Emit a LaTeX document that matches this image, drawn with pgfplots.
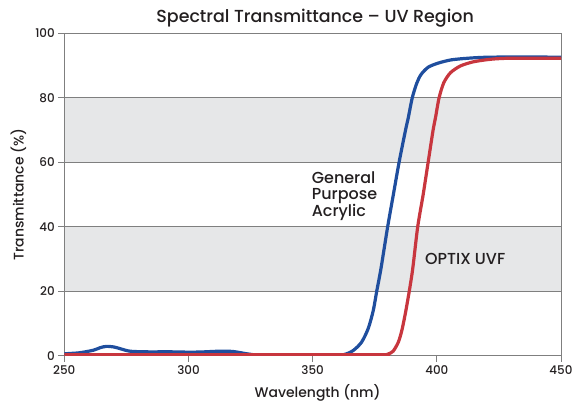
\documentclass[border=0pt]{standalone}
\usepackage{fontspec}
\setmainfont{Poppins}[UprightFont=* Medium]
\usepackage{pgfplots}
\pgfplotsset{compat=1.18}
\definecolor{bandgray}{HTML}{E6E7E8}
\definecolor{gridgray}{HTML}{7F7F7F}
\definecolor{txt}{HTML}{231F20}
\definecolor{cblue}{HTML}{1F4E9E}
\definecolor{cred}{HTML}{C8363E}
\begin{document}
\begin{tikzpicture}
\begin{axis}[
  set layers, clip mode=individual,
  at={(0,0)}, anchor=south west,
  scale only axis, width=496.7bp, height=322.3bp,
  xmin=250, xmax=450, ymin=0, ymax=100,
  xtick={250,300,...,450}, ytick={0,20,...,100},
  xtick pos=bottom, ytick pos=left, tick align=outside, major tick length=6bp,
  tick style={gridgray, line width=1pt},
  axis line style={gridgray, line width=1pt},
  ymajorgrids, major grid style={gridgray, line width=1pt},
  /pgf/number format/assume math mode=true,
  ticklabel style={font=\fontsize{12}{12}\selectfont, text=txt},
  xlabel={Wavelength (nm)},
  xlabel style={font=\fontsize{14}{15}\selectfont, text=txt, at={(axis description cs:0.51,0)}, anchor=base, yshift=-41.3bp, inner sep=0pt},
  ylabel={Transmittance (\%)},
  ylabel style={font=\fontsize{14}{15}\selectfont, text=txt, at={(axis description cs:-0.0925,0.5)}, anchor=center, inner sep=0pt},
]
\begin{pgfonlayer}{axis background}
\fill[bandgray] (axis cs:250,20) rectangle (axis cs:450,40);
\fill[bandgray] (axis cs:250,60) rectangle (axis cs:450,80);
\end{pgfonlayer}

% General Purpose Acrylic
\addplot[cblue, line width=3.2bp, smooth, tension=0.45] coordinates {
(250,0.6) (256,0.9) (261.7,1.7) (264.5,2.5) (267,2.9) (270,2.7) (272.4,2.2)
(276.4,1.4) (283,1.2) (293,1.2) (300,1.1) (305,1.15) (312.7,1.4) (318,1.3)
(323.4,0.6) (328.7,0.1) (335,0) (355,0) (362.3,0.3) (366.3,1.6) (369.7,4.2)
(372.4,8.5) (374.4,14) (375.8,20) (377.5,27) (380.2,40) (382.5,50) (384.8,60)
(387.4,70) (388.5,73.8) (390.1,80) (391.9,84.5) (393.6,87.2) (396.5,89.5)
(400.6,90.8) (405.9,91.8) (412.6,92.3) (420,92.6) (435,92.7) (450,92.6)
};
% OPTIX UVF
\addplot[cred, line width=3.2bp, smooth, tension=0.45] coordinates {
(250,0.3) (300,0.3) (350,0.3) (378,0.3) (380.3,0.5) (382.4,1.4) (384.5,4.2)
(385.9,7.8) (387.3,13) (388.9,20) (390.3,27) (392.3,40) (394.5,50) (396.5,60)
(398.5,70) (399.5,74) (400.9,80) (402.8,84.7) (405.5,87.8) (409.5,89.9)
(414.8,91.2) (422,92) (430,92.3) (450,92.3)
};

\node[anchor=base, inner sep=0pt, text=txt, font=\fontsize{17.5}{19}\selectfont]
  at (rel axis cs:0.505,1) [yshift=10.6bp] {Spectral Transmittance – UV Region};
\node[anchor=west, align=left, inner sep=0pt, text=txt, font=\fontsize{16}{16.5}\selectfont]
  at (axis cs:349.6,49.5) {General\\Purpose\\Acrylic};
\node[anchor=west, inner sep=0pt, text=txt, font=\fontsize{16}{16.5}\selectfont]
  at (axis cs:395.2,29.9) {OPTIX UVF};
\end{axis}
\pgfresetboundingbox
\path (-64.3bp,-47bp) rectangle (509.7bp,355.7bp);
\end{tikzpicture}
\end{document}
